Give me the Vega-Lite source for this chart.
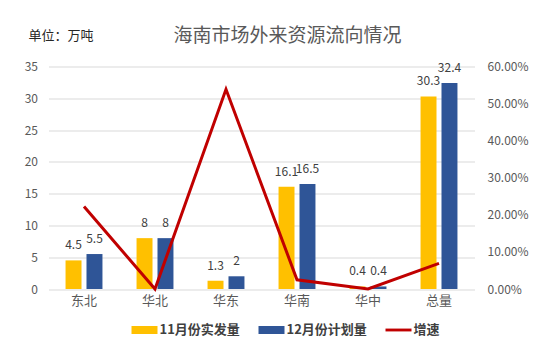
{
  "$schema": "https://vega.github.io/schema/vega-lite/v6.json",
  "width": 426,
  "height": 222.5,
  "autosize": {"type": "none"},
  "padding": {"left": 48.5, "top": 66.5, "right": 76.5, "bottom": 74},
  "background": "white",
  "config": {
    "font": "Noto Sans CJK SC",
    "view": {"stroke": null},
    "axis": {"labelFont": "Noto Sans CJK SC", "titleFont": "Noto Sans CJK SC"},
    "legend": {"labelFont": "Noto Sans CJK SC"}
  },
  "title": {
    "text": "海南市场外来资源流向情况",
    "fontSize": 19,
    "fontWeight": "normal",
    "color": "#595959",
    "anchor": "middle",
    "dx": 26,
    "dy": 31,
    "offset": 14
  },
  "datasets": {
    "bars": [
      {"region": "东北", "series": "11月份实发量", "value": 4.5},
      {"region": "东北", "series": "12月份计划量", "value": 5.5},
      {"region": "华北", "series": "11月份实发量", "value": 8},
      {"region": "华北", "series": "12月份计划量", "value": 8},
      {"region": "华东", "series": "11月份实发量", "value": 1.3},
      {"region": "华东", "series": "12月份计划量", "value": 2},
      {"region": "华南", "series": "11月份实发量", "value": 16.1},
      {"region": "华南", "series": "12月份计划量", "value": 16.5},
      {"region": "华中", "series": "11月份实发量", "value": 0.4},
      {"region": "华中", "series": "12月份计划量", "value": 0.4},
      {"region": "总量", "series": "11月份实发量", "value": 30.3},
      {"region": "总量", "series": "12月份计划量", "value": 32.4}
    ],
    "growth": [
      {"region": "东北", "rate": 0.2222},
      {"region": "华北", "rate": 0},
      {"region": "华东", "rate": 0.5385},
      {"region": "华南", "rate": 0.0248},
      {"region": "华中", "rate": 0},
      {"region": "总量", "rate": 0.0693}
    ]
  },
  "layer": [
    {
      "data": {"name": "bars"},
      "encoding": {
        "x": {
          "field": "region",
          "type": "nominal",
          "sort": ["东北", "华北", "华东", "华南", "华中", "总量"],
          "scale": {"paddingInner": 0.48, "paddingOuter": 0.24},
          "axis": {
            "title": null,
            "labelAngle": 0,
            "labelFontSize": 13,
            "labelColor": "#595959",
            "labelPadding": 5,
            "ticks": false,
            "domain": false
          }
        },
        "xOffset": {
          "field": "series",
          "type": "nominal",
          "sort": ["11月份实发量", "12月份计划量"],
          "scale": {"paddingInner": 0.238, "paddingOuter": 0}
        },
        "y": {
          "field": "value",
          "type": "quantitative",
          "scale": {"domain": [0, 35], "nice": false},
          "axis": {
            "title": "单位：万吨",
            "titleAngle": 0,
            "titleX": -20.5,
            "titleY": -31.5,
            "titleAlign": "left",
            "titleBaseline": "middle",
            "titleFontSize": 13,
            "titleFontWeight": "normal",
            "titleColor": "#262626",
            "values": [0, 5, 10, 15, 20, 25, 30, 35],
            "labelColor": "#595959",
            "labelFontSize": 12,
            "labelPadding": 11,
            "domain": false,
            "ticks": false,
            "grid": true,
            "gridColor": "#D9D9D9"
          }
        }
      },
      "layer": [
        {
          "mark": {"type": "bar"},
          "encoding": {
            "color": {
              "field": "series",
              "type": "nominal",
              "scale": {
                "domain": ["11月份实发量", "12月份计划量", "增速"],
                "range": ["#FFC000", "#2F5597", "#C00000"]
              },
              "legend": {
                "orient": "none",
                "legendX": 83,
                "legendY": 250.5,
                "direction": "horizontal",
                "title": null,
                "symbolSize": 676,
                "symbolType": "M-1,-0.31H1V0.31H-1Z",
                "symbolStrokeWidth": 0,
                "symbolOpacity": 1,
                "labelFontSize": 13,
                "labelFontWeight": "bold",
                "labelColor": "#404040",
                "labelOffset": 2,
                "columnPadding": 18,
                "padding": 0,
                "encode": {
                  "symbols": {
                    "update": {
                      "shape": {"signal": "datum.value === '增速' ? 'M-1,-0.11H1V0.11H-1Z' : 'M-1,-0.31H1V0.31H-1Z'"},
                      "fill": {"signal": "scale('color', datum.value)"}
                    }
                  }
                }
              }
            }
          }
        },
        {
          "mark": {"type": "text", "baseline": "middle", "dy": -15, "fontSize": 12, "color": "#404040"},
          "encoding": {"text": {"field": "value", "type": "quantitative"}}
        }
      ]
    },
    {
      "data": {"name": "growth"},
      "mark": {"type": "line", "color": "#C00000", "strokeWidth": 3},
      "encoding": {
        "x": {
          "field": "region",
          "type": "nominal",
          "sort": ["东北", "华北", "华东", "华南", "华中", "总量"]
        },
        "y": {
          "field": "rate",
          "type": "quantitative",
          "scale": {"domain": [0, 0.6], "nice": false},
          "axis": {
            "orient": "right",
            "title": null,
            "format": ".2%",
            "values": [0, 0.1, 0.2, 0.3, 0.4, 0.5, 0.6],
            "grid": false,
            "domain": false,
            "ticks": false,
            "labelPadding": 12.5,
            "labelColor": "#595959",
            "labelFontSize": 12
          }
        }
      }
    }
  ],
  "resolve": {"scale": {"y": "independent"}}
}
